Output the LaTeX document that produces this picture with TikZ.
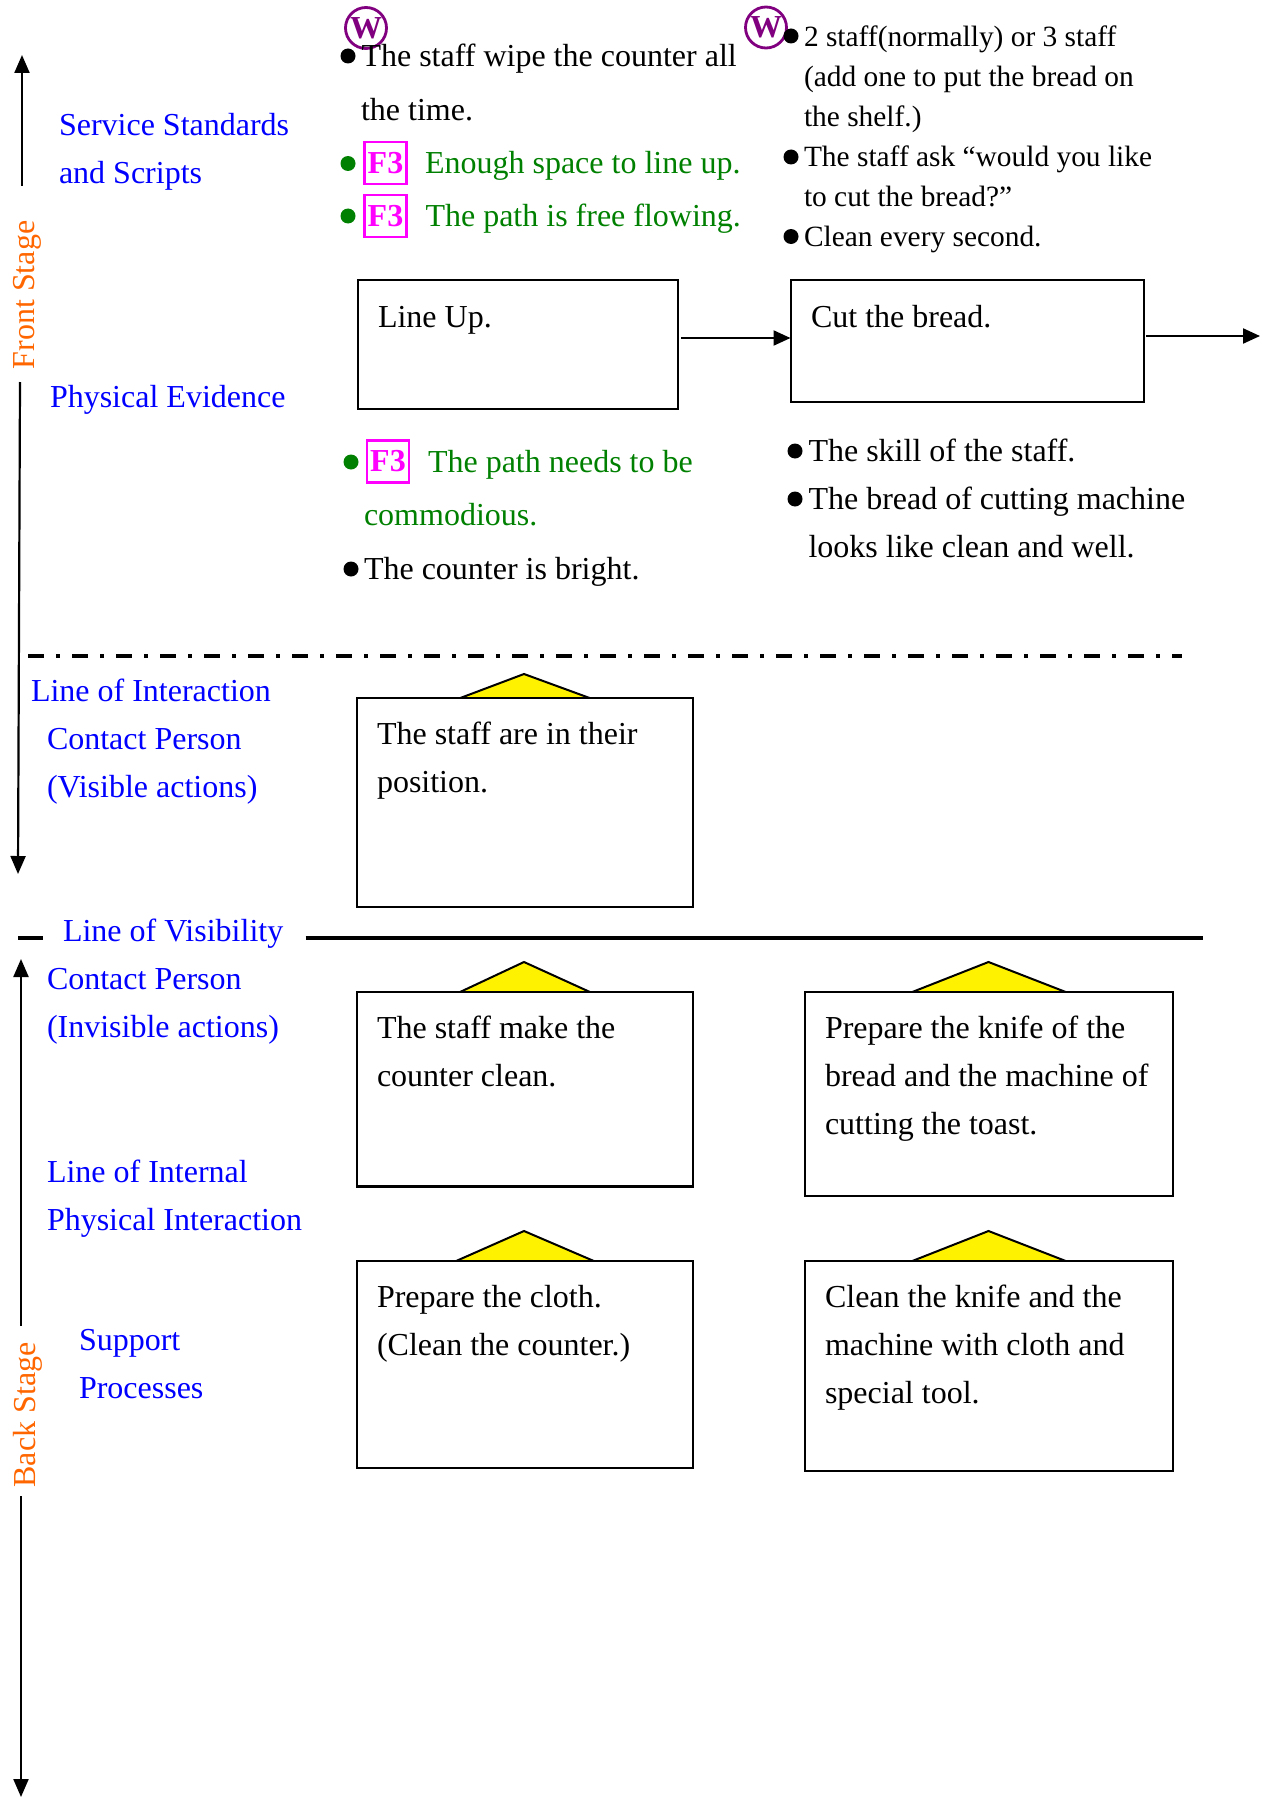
\documentclass[tikz,border=0pt]{standalone}
\usepackage{fontspec}
\setmainfont{Liberation Serif}
\usetikzlibrary{arrows.meta}
\definecolor{lblblue}{RGB}{0,0,255}
\definecolor{grn}{RGB}{0,128,0}
\definecolor{mag}{RGB}{255,0,255}
\definecolor{pur}{RGB}{128,0,128}
\definecolor{org}{RGB}{255,102,0}
\tikzset{
  txt/.style={anchor=base west,inner sep=0pt,outer sep=0pt,font=\fontsize{32}{38}\selectfont},
  small/.style={txt,font=\fontsize{29.4}{36}\selectfont},
  lbl/.style={txt,text=lblblue},
  gtxt/.style={txt,text=grn},
  stage/.style={inner sep=0pt,rotate=90,text=org,font=\fontsize{32}{38}\selectfont},
  box/.style={draw=black,fill=white,line width=2pt,rectangle,inner sep=0pt,outer sep=0pt,anchor=north west},
  roof/.style={draw=black,fill=yellow,line width=2pt,line join=miter},
  fbox/.style={draw=mag,line width=2.6pt,rectangle,inner sep=0pt,minimum width=42pt,minimum height=42pt,text=mag,font=\fontsize{32}{38}\selectfont\bfseries},
  wmark/.style={draw=pur,line width=2.8pt,circle,inner sep=0pt,minimum size=41pt,text=pur,font=\fontsize{32}{38}\selectfont\bfseries},
  dotb/.style={fill=black,circle,inner sep=0pt,minimum size=15pt},
  dotg/.style={fill=grn,circle,inner sep=0pt,minimum size=15pt},
  flow/.style={line width=2.2pt,-{Triangle[length=17pt,width=15pt]}},
  axis/.style={line width=2.2pt,-{Triangle[length=18pt,width=15pt]}},
}
\begin{document}
\begin{tikzpicture}[x=1pt,y=-1pt]
\useasboundingbox (0,0) rectangle (1270,1798);
% roofs
\draw[roof] (459,698.5) -- (524,674) -- (591,698.5);
\draw[roof] (459,992.5) -- (524,962) -- (591,992.5);
\draw[roof] (911,992.5) -- (988.5,962) -- (1067,992.5);
\draw[roof] (455,1261.5) -- (524,1231) -- (595,1261.5);
\draw[roof] (911,1261.5) -- (988.5,1231) -- (1067,1261.5);
% boxes
\node[box,minimum width=320pt,minimum height=129pt] (lineup) at (358,280.2) {};
\node[box,minimum width=353pt,minimum height=122pt] (cut) at (790.5,280.2) {};
\node[box,minimum width=336.5pt,minimum height=209pt] (visible) at (356.5,698) {};
\node[box,minimum width=336.5pt,minimum height=194pt] (clean) at (356.5,992) {};
\draw[line width=1.4pt,fill=yellow] (clean.south west) rectangle ([yshift=-1.5pt]clean.south east);
\node[box,minimum width=368pt,minimum height=204pt] (knife) at (805,992) {};
\node[box,minimum width=336.5pt,minimum height=207pt] (cloth) at (356.5,1261) {};
\node[box,minimum width=368pt,minimum height=210pt] (tool) at (805,1261) {};
% flow arrows
\coordinate (a1) at (681,338);
\coordinate (a2) at (1146,336);
\coordinate (a3) at (1260,336);
\draw[flow] (a1) -- (cut.west |- a1);
\draw[flow] (a2) -- (a3);
% stage axes
\coordinate (f1) at (22,186); \coordinate (f2) at (22,55);
\coordinate (f3) at (20,382); \coordinate (f4) at (18,874);
\coordinate (b1) at (21,1326); \coordinate (b2) at (21,959);
\coordinate (b3) at (21,1496); \coordinate (b4) at (21,1797);
\draw[axis] (f1) -- (f2);
\draw[axis] (f3) -- (f4);
\draw[axis] (b1) -- (b2);
\draw[axis] (b3) -- (b4);
\node[stage] (front) at (27.5,295) {Front Stage};
\node[stage] (back) at (27.5,1415) {Back Stage};
% service lines
\coordinate (i1) at (28,656); \coordinate (i2) at (1182,656);
\draw[line width=3.4pt,dash pattern=on 16pt off 12pt on 4pt off 12pt] (i1) -- (i2);
\coordinate (v1) at (18,938); \coordinate (v2) at (43,938);
\coordinate (v3) at (305.5,938); \coordinate (v4) at (1203,938);
\draw[line width=4pt] (v1) -- (v2);
\draw[line width=4pt] (v3) -- (v4);
% left labels
\node[lbl] (l1) at (59,136) {Service Standards};
\node[lbl] (l2) at (59,184) {and Scripts};
\node[lbl] (l3) at (50,407) {Physical Evidence};
\node[lbl] (l4) at (31,701) {Line of Interaction};
\node[lbl] (l5) at (47,749) {Contact Person};
\node[lbl] (l6) at (47,797) {(Visible actions)};
\node[lbl] (l7) at (63,941) {Line of Visibility};
\node[lbl] (l8) at (47,989) {Contact Person};
\node[lbl] (l9) at (47,1037) {(Invisible actions)};
\node[lbl] (l10) at (47,1182) {Line of Internal};
\node[lbl] (l11) at (47,1230) {Physical Interaction};
\node[lbl] (l12) at (79,1350) {Support};
\node[lbl] (l13) at (79,1398) {Processes};
% top-left column
\node[wmark] (w1) at (366,28) {W};
\node[dotb] (d1) at (348,56) {};
\node[txt] (t1) at (361.5,67) {The staff wipe the counter all};
\node[txt] (t2) at (361,120.5) {the time.};
\node[dotg] (d2) at (348,163.5) {};
\node[fbox] (f31) at (385.5,163) {F3};
\node[gtxt] (t3) at (425,174) {Enough space to line up.};
\node[dotg] (d3) at (348,216) {};
\node[fbox] (f32) at (385.5,216) {F3};
\node[gtxt] (t4) at (425.5,226) {The path is free flowing.};
% top-right column
\node[wmark] (w2) at (766,27.5) {W};
\node[dotb] (d4) at (791,36) {};
\node[small] (r1) at (804,47) {2 staff(normally) or 3 staff};
\node[small] (r2) at (804,87) {(add one to put the bread on};
\node[small] (r3) at (804,127) {the shelf.)};
\node[dotb] (d5) at (791,157) {};
\node[small] (r4) at (804,167) {The staff ask “would you like};
\node[small] (r5) at (804,207) {to cut the bread?”};
\node[dotb] (d6) at (791,236.5) {};
\node[small] (r6) at (804,246.5) {Clean every second.};
% box texts
\node[txt] (x1) at (378,327) {Line Up.};
\node[txt] (x2) at (811,327) {Cut the bread.};
\node[txt] (x3) at (377,744) {The staff are in their};
\node[txt] (x4) at (377,792) {position.};
\node[txt] (x5) at (377,1038) {The staff make the};
\node[txt] (x6) at (377,1086) {counter clean.};
\node[txt] (x7) at (825,1038) {Prepare the knife of the};
\node[txt] (x8) at (825,1086) {bread and the machine of};
\node[txt] (x9) at (825,1134) {cutting the toast.};
\node[txt] (x10) at (377,1307) {Prepare the cloth.};
\node[txt] (x11) at (377,1355) {(Clean the counter.)};
\node[txt] (x12) at (825,1307) {Clean the knife and the};
\node[txt] (x13) at (825,1355) {machine with cloth and};
\node[txt] (x14) at (825,1403) {special tool.};
% evidence
\node[dotg] (d7) at (351,462) {};
\node[fbox] (f33) at (388,461.5) {F3};
\node[gtxt] (e1) at (428,472.5) {The path needs to be};
\node[gtxt] (e2) at (364,525.5) {commodious.};
\node[dotb] (d8) at (351,569) {};
\node[txt] (e3) at (364,579) {The counter is bright.};
\node[dotb] (d9) at (795,451) {};
\node[txt] (e4) at (808.5,461) {The skill of the staff.};
\node[dotb] (d10) at (795,499) {};
\node[txt] (e5) at (808.5,509) {The bread of cutting machine};
\node[txt] (e6) at (808.5,557) {looks like clean and well.};
\end{tikzpicture}
\end{document}
